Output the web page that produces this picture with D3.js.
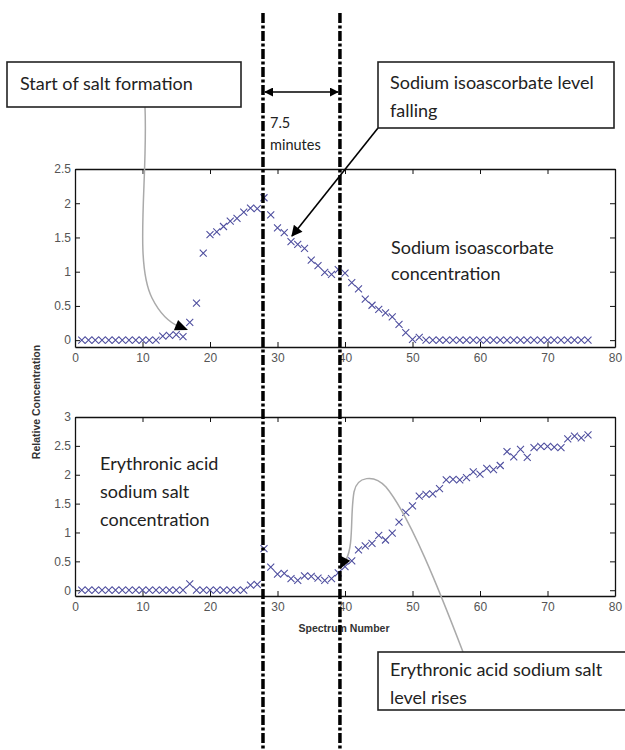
<!DOCTYPE html>
<html>
<head>
<meta charset="utf-8">
<script src="https://cdn.jsdelivr.net/npm/d3@7"></script>
<style>
  html, body { margin: 0; padding: 0; background: #fff; }
  #chart { width: 625px; height: 750px; }
</style>
</head>
<body>
<div id="chart"></div>
<script>
// spectrum numbers (x) and the two measured series
const spectrum = [
  1, 2, 3, 4, 5, 6, 7, 8, 9, 10, 11, 12, 13, 14, 15, 16, 17, 18, 19, 20,
  21, 22, 23, 24, 25, 26, 27, 28, 29, 30, 31, 32, 33, 34, 35, 36, 37, 38, 39, 40,
  41, 42, 43, 44, 45, 46, 47, 48, 49, 50, 51, 52, 53, 54, 55, 56, 57, 58, 59, 60,
  61, 62, 63, 64, 65, 66, 67, 68, 69, 70, 71, 72, 73, 74, 75, 76
];
const isoascorbate = [
  0, 0, 0, 0, 0, 0, 0, 0, 0, 0, 0, 0, 0.06, 0.07, 0.08, 0.05, 0.26, 0.54, 1.27, 1.54,
  1.58, 1.66, 1.74, 1.78, 1.87, 1.93, 1.92, 2.08, 1.83, 1.64, 1.57, 1.44, 1.40, 1.34, 1.17, 1.09, 0.99, 0.96, 1.03, 0.98,
  0.84, 0.75, 0.60, 0.51, 0.45, 0.40, 0.34, 0.23, 0.11, 0.01, 0.04, 0, 0, 0, 0, 0, 0, 0, 0, 0,
  0, 0, 0, 0, 0, 0, 0, 0, 0, 0, 0, 0, 0, 0, 0, 0
];
const erythronic = [
  0, 0, 0, 0, 0, 0, 0, 0, 0, 0, 0, 0, 0, 0, 0, 0, 0.11, 0, 0, 0,
  0, 0, 0, 0, 0, 0.09, 0.10, 0.72, 0.40, 0.28, 0.29, 0.20, 0.17, 0.25, 0.24, 0.21, 0.17, 0.20, 0.30, 0.41,
  0.51, 0.70, 0.77, 0.81, 0.95, 0.87, 0.99, 1.18, 1.35, 1.46, 1.63, 1.66, 1.67, 1.76, 1.91, 1.92, 1.91, 1.95, 2.05, 2.01,
  2.11, 2.09, 2.16, 2.40, 2.31, 2.44, 2.30, 2.47, 2.49, 2.49, 2.48, 2.47, 2.62, 2.67, 2.64, 2.69
];
const xTicks = [0, 10, 20, 30, 40, 50, 60, 70, 80];
const topYTicks = [0, 0.5, 1, 1.5, 2, 2.5];
const bottomYTicks = [0, 0.5, 1, 1.5, 2, 2.5, 3];
const markerLines = [27.85, 39.25]; // spectrum numbers of the two dash-dot lines

const width = 625;
const height = 750;
const markerColor = "#4f4f9f";
const boxFont = "Lato, 'Open Sans', sans-serif";
const axisFont = "'Liberation Sans', Arial, sans-serif";

const svg = d3.select("#chart")
  .append("svg")
  .attr("width", width)
  .attr("height", height)
  .style("background", "white");

const defs = svg.append("defs");
defs.append("marker")
  .attr("id", "arrow")
  .attr("viewBox", "0 0 10 10")
  .attr("refX", 9).attr("refY", 5)
  .attr("markerWidth", 9).attr("markerHeight", 9)
  .attr("markerUnits", "userSpaceOnUse")
  .attr("orient", "auto-start-reverse")
  .append("path")
  .attr("d", "M0,0L10,5L0,10z")
  .attr("fill", "#000");
defs.append("marker")
  .attr("id", "arrowBig")
  .attr("viewBox", "0 0 10 10")
  .attr("refX", 9).attr("refY", 5)
  .attr("markerWidth", 13).attr("markerHeight", 11)
  .attr("markerUnits", "userSpaceOnUse")
  .attr("orient", "auto")
  .append("path")
  .attr("d", "M0,0L10,5L0,10z")
  .attr("fill", "#000");

const x = d3.scaleLinear().domain([0, 80]).range([75, 615]);

// each panel: its own y scale and series
const panels = [
  { values: isoascorbate, ticks: topYTicks, y: d3.scaleLinear().domain([-0.1, 2.5]).range([347, 169]) },
  { values: erythronic, ticks: bottomYTicks, y: d3.scaleLinear().domain([-0.1, 3]).range([596, 417]) }
];

const xMark = "M-3.5,-3.5L3.5,3.5M-3.5,3.5L3.5,-3.5";
const fmt = d3.format("~g");

panels.forEach(p => {
  const [y0, y1] = p.y.range();
  const g = svg.append("g");

  g.append("rect")
    .attr("x", x(0)).attr("y", y1)
    .attr("width", x(80) - x(0)).attr("height", y0 - y1)
    .attr("fill", "white");

  // bottom axis with labels
  const bx = g.append("g")
    .attr("transform", `translate(0,${y0})`)
    .call(d3.axisBottom(x).tickValues(xTicks).tickSizeInner(-5).tickSizeOuter(0).tickPadding(6));
  // top axis, ticks only
  const tx = g.append("g")
    .attr("transform", `translate(0,${y1})`)
    .call(d3.axisTop(x).tickValues(xTicks).tickSizeInner(-5).tickSizeOuter(0).tickFormat(""));
  // left axis with labels
  const ly = g.append("g")
    .attr("transform", `translate(${x(0)},0)`)
    .call(d3.axisLeft(p.y).tickValues(p.ticks).tickSizeInner(-5).tickSizeOuter(0).tickPadding(4).tickFormat(fmt));
  // right axis, ticks only
  const ry = g.append("g")
    .attr("transform", `translate(${x(80)},0)`)
    .call(d3.axisRight(p.y).tickValues(p.ticks).tickSizeInner(-5).tickSizeOuter(0).tickFormat(""));

  [bx, tx, ly, ry].forEach(a => {
    a.select(".domain").attr("stroke", "#111").attr("stroke-width", 1.3);
    a.selectAll(".tick line").attr("stroke", "#111");
    a.selectAll("text")
      .attr("font-family", axisFont)
      .attr("font-size", "12px")
      .attr("fill", "#555");
  });

  g.append("g")
    .selectAll("path")
    .data(p.values)
    .join("path")
    .attr("d", xMark)
    .attr("transform", (d, i) => `translate(${x(spectrum[i])},${p.y(d)})`)
    .attr("fill", "none")
    .attr("stroke", markerColor)
    .attr("stroke-width", 1.1);
});

// axis titles
svg.append("text")
  .attr("transform", "translate(40,402) rotate(-90)")
  .attr("text-anchor", "middle")
  .attr("font-family", axisFont)
  .attr("font-weight", "bold")
  .attr("font-size", "10.5px")
  .attr("fill", "#333")
  .text("Relative Concentration");

svg.append("text")
  .attr("x", 344).attr("y", 632)
  .attr("text-anchor", "middle")
  .attr("font-family", axisFont)
  .attr("font-weight", "bold")
  .attr("font-size", "10.5px")
  .attr("fill", "#333")
  .text("Spectrum Number");

// text in several lines
function multiline(xp, yp, lines, step, size) {
  const t = svg.append("text")
    .attr("font-family", boxFont)
    .attr("font-size", size)
    .attr("fill", "#222");
  lines.forEach((s, i) => {
    t.append("tspan").attr("x", xp).attr("y", yp + i * step).text(s);
  });
}
multiline(391, 254, ["Sodium isoascorbate", "concentration"], 26, "18px");
multiline(100, 470, ["Erythronic acid", "sodium salt", "concentration"], 28, "18px");

// filled arrow head: tip point and direction
function arrowHead(tx, ty, dx, dy, len, hw) {
  const n = Math.hypot(dx, dy);
  const ux = dx / n, uy = dy / n;
  const bx = tx - ux * len, by = ty - uy * len;
  svg.append("path")
    .attr("d", `M${tx},${ty}L${bx - uy * hw},${by + ux * hw}L${bx + uy * hw},${by - ux * hw}Z`)
    .attr("fill", "#000");
}

// gray leader curves
svg.append("path")
  .attr("d", "M145,107 C148,180 134,262 152,298 C161,316 170,323 180,327")
  .attr("fill", "none").attr("stroke", "#aaa").attr("stroke-width", 1.5);
arrowHead(188, 330, 17, 7, 13, 5.5);

svg.append("path")
  .attr("d", "M463,652 C440,592 410,516 386,487 C374,474 357,476 354,492 C350,515 354,545 346,560")
  .attr("fill", "none").attr("stroke", "#aaa").attr("stroke-width", 1.5);
arrowHead(340, 569, -5, 10, 12, 5.5);

// black arrow from "falling" box
svg.append("line")
  .attr("x1", 378).attr("y1", 128)
  .attr("x2", 292).attr("y2", 236)
  .attr("stroke", "#000").attr("stroke-width", 1.6)
  .attr("marker-end", "url(#arrowBig)");

// dash-dot lines marking the interval
svg.append("g")
  .selectAll("line")
  .data(markerLines)
  .join("line")
  .attr("x1", d => x(d)).attr("x2", d => x(d))
  .attr("y1", 13).attr("y2", height)
  .attr("stroke", "#000")
  .attr("stroke-width", 3.5)
  .attr("stroke-dasharray", "10,2.5,3,2.5");

// 7.5 minutes double arrow
svg.append("line")
  .attr("x1", x(markerLines[0]) + 2).attr("x2", x(markerLines[1]) - 2)
  .attr("y1", 92).attr("y2", 92)
  .attr("stroke", "#000").attr("stroke-width", 1.5)
  .attr("marker-start", "url(#arrow)")
  .attr("marker-end", "url(#arrow)");
multiline(270, 128, ["7.5", "minutes"], 22, "14.5px");

// annotation boxes
function box(x0, y0, w, h, lines, tx, ty, step) {
  svg.append("rect")
    .attr("x", x0).attr("y", y0)
    .attr("width", w).attr("height", h)
    .attr("fill", "white")
    .attr("stroke", "#222")
    .attr("stroke-width", 1.6);
  multiline(tx, ty, lines, step, "18px");
}
box(7, 62, 234, 45, ["Start of salt formation"], 20, 90, 28);
box(378, 62, 236, 66, ["Sodium isoascorbate level", "falling"], 390, 89, 28);
box(378, 652, 260, 58, ["Erythronic acid sodium salt", "level rises"], 390, 676, 28);
</script>
</body>
</html>
